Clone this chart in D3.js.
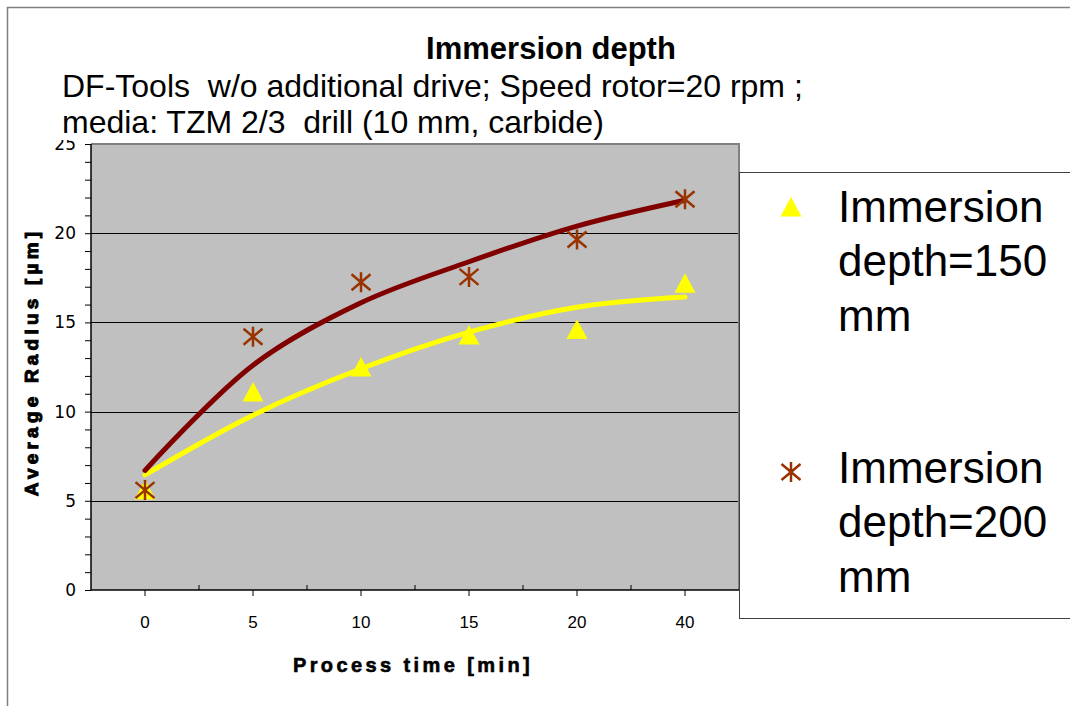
<!DOCTYPE html>
<html>
<head>
<meta charset="utf-8">
<script src="https://cdn.jsdelivr.net/npm/d3@7/dist/d3.min.js"></script>
<style>
  html, body { margin: 0; padding: 0; background: #fff; }
  svg { display: block; font-family: "Liberation Sans", Arial, sans-serif; }
</style>
</head>
<body>
<svg id="chart" width="1070" height="706"></svg>
<script>
// ---- data ----
const categories = ["0", "5", "10", "15", "20", "40"];          // Process time [min]
const depth150   = [5.6, 11.1, 12.5, 14.3, 14.6, 17.2];          // Immersion depth=150 mm (triangles)
const depth200   = [5.6, 14.2, 17.25, 17.55, 19.65, 21.9];       // Immersion depth=200 mm (asterisks)
const trend150   = [6.45, 9.8, 12.4, 14.45, 15.85, 16.42];       // trend line, 150 mm
const trend200   = [6.7, 12.6, 16.1, 18.4, 20.4, 21.85];         // trend line, 200 mm
const yTickLabels = [0, 5, 10, 15, 20, 25];
const seriesNames = ["Immersion depth=150 mm", "Immersion depth=200 mm"];

const titleText = "Immersion depth";
const subtitleLines = ["DF-Tools  w/o additional drive; Speed rotor=20 rpm ;",
                       "media: TZM 2/3  drill (10 mm, carbide)"];
const xTitle = "Process time [min]";
const yTitle = "Average Radius [µm]";

// ---- layout ----
const svg = d3.select("#chart");
const plot = { left: 91, right: 739, top: 144, bottom: 590 };

const x = d3.scaleBand().domain(categories).range([plot.left, plot.right]).padding(0);
const y = d3.scaleLinear().domain([0, 25]).range([plot.bottom, plot.top]);
const cx = c => x(c) + x.bandwidth() / 2;

// background + outer frame
svg.append("rect").attr("width", 1070).attr("height", 706).attr("fill", "#fff");
svg.append("rect").attr("x", 7.5).attr("y", 7.5).attr("width", 1200).attr("height", 900)
  .attr("fill", "none").attr("stroke", "#808080").attr("stroke-width", 1.5);

// plot area
svg.append("rect").attr("x", plot.left).attr("y", plot.top)
  .attr("width", plot.right - plot.left).attr("height", plot.bottom - plot.top)
  .attr("fill", "#c0c0c0");

// gridlines
svg.append("g").selectAll("line").data(yTickLabels.filter(v => v > 0 && v < 25)).join("line")
  .attr("x1", plot.left).attr("x2", plot.right)
  .attr("y1", d => Math.round(y(d)) + 0.5).attr("y2", d => Math.round(y(d)) + 0.5)
  .attr("stroke", "#000").attr("stroke-width", 1);

// plot border top/right (gray)
svg.append("path")
  .attr("d", `M${plot.left},${plot.top} H${plot.right} V${plot.bottom}`)
  .attr("fill", "none").attr("stroke", "#808080").attr("stroke-width", 2);

// y axis
const yAxis = d3.axisLeft(y)
  .tickValues(d3.range(0, 26, 1))
  .tickSize(6).tickPadding(9)
  .tickFormat(d => (yTickLabels.includes(d) ? d : ""));
const gy = svg.append("g").attr("transform", `translate(${plot.left},0)`).call(yAxis);
gy.attr("font-size", null).attr("font-family", null);
gy.select(".domain").attr("stroke", "#000").attr("stroke-width", 1.5)
  .attr("d", `M0,${plot.top}V${plot.bottom}`);
gy.selectAll(".tick line").attr("stroke", "#000");
gy.selectAll(".tick text").style("font-size", "17px").attr("fill", "#000")
  .style("font-family", "'DejaVu Sans', Verdana, sans-serif");

// x axis
const xAxis = d3.axisBottom(x).tickSize(6).tickPadding(20);
const gx = svg.append("g").attr("transform", `translate(0,${plot.bottom})`).call(xAxis);
gx.attr("font-size", null).attr("font-family", null);
gx.select(".domain").attr("stroke", "#000").attr("stroke-width", 1.5)
  .attr("d", `M${plot.left},0H${plot.right}`);
gx.selectAll(".tick line").attr("stroke", "#000");
gx.selectAll(".tick text").style("font-size", "17px").attr("fill", "#000")
  .style("font-family", "'Liberation Sans', Arial, sans-serif");
// inner boundary ticks between categories
gx.append("g").selectAll("line").data(categories.slice(1)).join("line")
  .attr("x1", d => x(d)).attr("x2", d => x(d))
  .attr("y1", 0).attr("y2", -5).attr("stroke", "#000");

// white box behind subtitle (clips top of "25" like the reference)
svg.append("rect").attr("x", 50).attr("y", 68).attr("width", 690).attr("height", 72).attr("fill", "#fff");

// titles
svg.append("text").attr("x", 551).attr("y", 59).attr("text-anchor", "middle")
  .attr("font-size", 31).attr("font-weight", "bold").text(titleText);
svg.append("g").selectAll("text").data(subtitleLines).join("text")
  .attr("x", 62).attr("y", (d, i) => 97 + i * 36)
  .attr("font-size", 32).style("white-space", "pre").text(d => d);

// axis titles
svg.append("text").attr("x", 413).attr("y", 672).attr("text-anchor", "middle")
  .attr("font-size", 20).attr("font-weight", "bold").attr("letter-spacing", 3.4)
  .attr("stroke", "#000").attr("stroke-width", 0.6)
  .text(xTitle);
svg.append("text").attr("transform", "translate(31,362) rotate(-90)")
  .attr("text-anchor", "middle").attr("dominant-baseline", "central")
  .attr("font-size", 19).attr("font-weight", "bold").attr("letter-spacing", 4.2)
  .attr("stroke", "#000").attr("stroke-width", 1)
  .text(yTitle);

// trend lines
const line = d3.line().x((d, i) => cx(categories[i])).y(d => y(d)).curve(d3.curveCatmullRom.alpha(0.5));
svg.append("path").datum(trend150).attr("d", line)
  .attr("fill", "none").attr("stroke", "#ffff00").attr("stroke-width", 5).attr("stroke-linecap", "round");
svg.append("path").datum(trend200).attr("d", line)
  .attr("fill", "none").attr("stroke", "#800000").attr("stroke-width", 5).attr("stroke-linecap", "round");

// markers
const triPath = "M0,-10L10.5,9.5L-10.5,9.5Z";
const starPath = "M0,-10V10M-9.5,-8L9.5,8M-9.5,8L9.5,-8";
svg.append("g").selectAll("path").data(depth150).join("path")
  .attr("transform", (d, i) => `translate(${cx(categories[i])},${y(d)})`)
  .attr("d", triPath).attr("fill", "#ffff00");
svg.append("g").selectAll("path").data(depth200).join("path")
  .attr("transform", (d, i) => `translate(${cx(categories[i])},${y(d)})`)
  .attr("d", starPath).attr("fill", "none").attr("stroke", "#993300").attr("stroke-width", 2.5);

// legend
const lg = svg.append("g");
lg.append("rect").attr("x", 739.5).attr("y", 172.5).attr("width", 400).attr("height", 446)
  .attr("fill", "#fff").attr("stroke", "#404040").attr("stroke-width", 1);
const legendEntries = [
  { lines: ["Immersion", "depth=150", "mm"], y0: 222, marker: triPath, my: 207, fill: "#ffff00", stroke: "none" },
  { lines: ["Immersion", "depth=200", "mm"], y0: 483, marker: starPath, my: 472, fill: "none", stroke: "#993300" }
];
legendEntries.forEach((e, k) => {
  lg.append("path").attr("transform", `translate(791,${e.my})`).attr("d", e.marker)
    .attr("fill", e.fill).attr("stroke", e.stroke).attr("stroke-width", 2.5);
  const t = lg.append("text").attr("font-size", 44).attr("fill", "#000")
    .attr("aria-label", seriesNames[k]);
  t.selectAll("tspan").data(e.lines).join("tspan")
    .attr("x", 838).attr("y", (d, i) => e.y0 + i * 54.3).text(d => d);
});
</script>
</body>
</html>
